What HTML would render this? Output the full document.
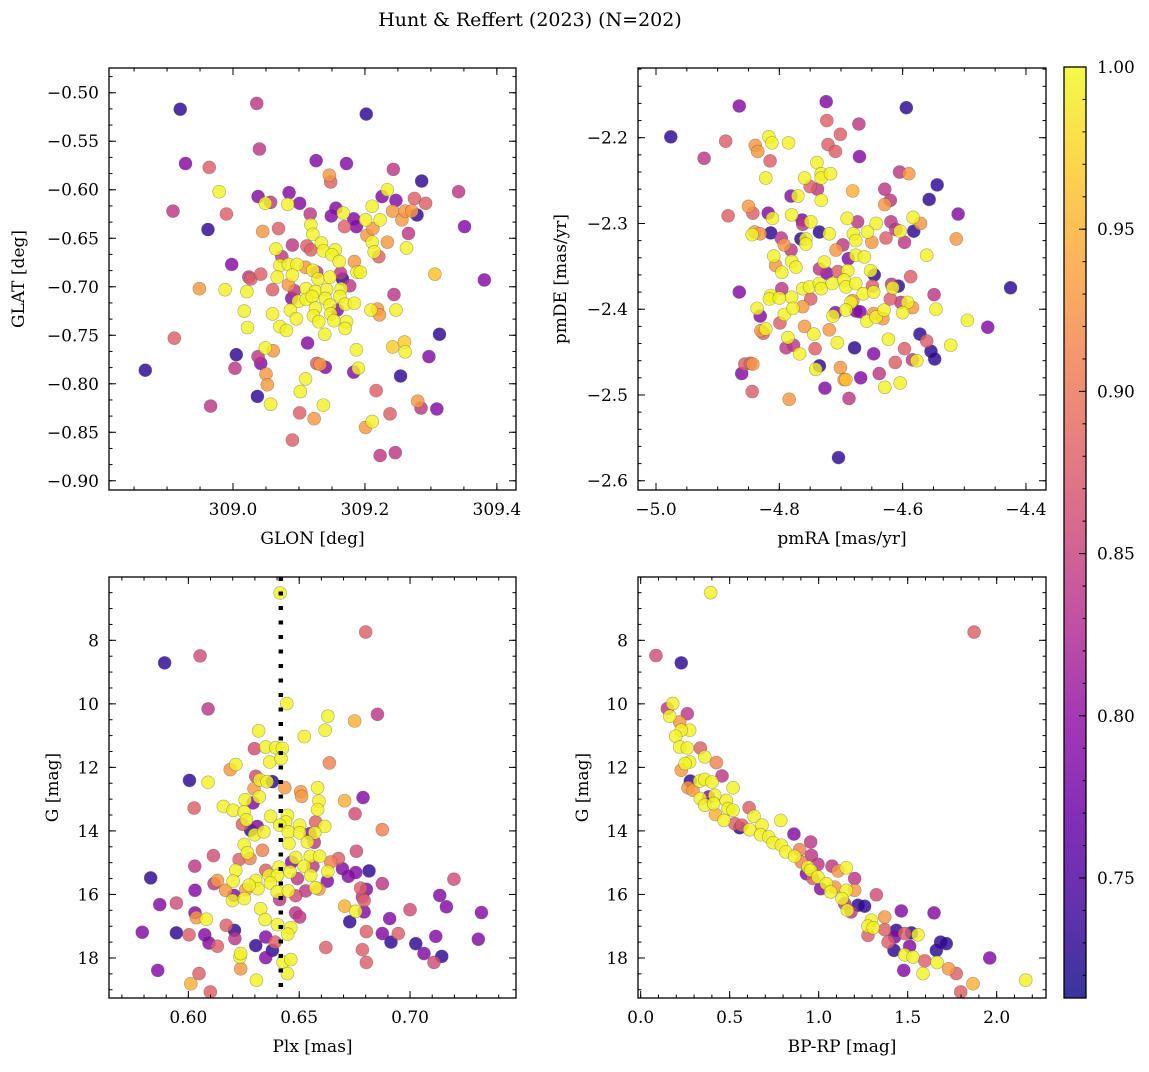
<!DOCTYPE html>
<html><head><meta charset="utf-8"><style>
body{margin:0;background:#fff}
svg text{font-family:"DejaVu Serif","Liberation Serif",serif;fill:#000}
</style></head><body>
<svg id="fig" xmlns="http://www.w3.org/2000/svg" width="1149" height="1067" viewBox="0 0 1149 1067">
<rect width="1149" height="1067" fill="#fff"/>
<text x="530" y="26" font-size="19" text-anchor="middle">Hunt &amp; Reffert (2023) (N=202)</text>
<g id="plots"></g>
</svg>
<script>
// Panel 1: GLON / GLAT
const p1Lon=[308.920,309.036,309.202,309.040,308.928,308.964,309.126,309.172,309.243,309.146,309.148,309.286,308.979,309.038,309.085,309.057,309.049,309.083,309.101,309.226,309.234,309.247,309.275,309.292,309.342,308.909,308.990,309.117,309.156,309.149,309.167,309.183,309.201,309.211,309.223,309.242,309.256,309.261,309.271,309.279,308.962,309.351,309.045,309.069,309.118,309.121,309.169,309.187,309.203,309.212,309.266,309.090,309.134,309.112,309.118,309.065,309.137,309.155,309.150,309.211,309.234,309.214,309.221,309.263,309.074,308.998,309.071,309.084,309.097,309.110,309.161,309.184,309.188,309.193,309.306,309.024,309.027,309.042,309.067,309.090,309.121,309.129,309.127,309.147,309.163,309.166,309.177,309.381,308.949,308.988,309.021,309.060,309.084,309.093,309.111,309.125,309.142,309.164,309.089,309.099,309.111,309.120,309.140,309.162,309.244,309.017,309.060,309.087,309.125,309.147,309.148,309.158,309.170,309.184,309.209,309.219,309.222,309.247,309.096,309.122,309.130,309.153,309.172,309.170,309.022,309.071,309.081,309.139,309.313,309.113,309.187,309.242,309.260,309.261,308.911,309.005,309.038,309.042,309.049,309.061,309.127,309.132,309.140,309.183,309.190,309.297,308.867,309.003,309.050,309.110,309.052,309.254,309.102,309.217,309.037,309.057,309.137,308.966,309.280,309.285,309.309,309.101,309.123,309.201,309.211,309.238,309.090,309.223,309.246];
const p1Lat=[-0.517,-0.511,-0.522,-0.558,-0.573,-0.577,-0.570,-0.573,-0.579,-0.585,-0.592,-0.591,-0.602,-0.607,-0.603,-0.613,-0.614,-0.615,-0.614,-0.607,-0.600,-0.611,-0.609,-0.614,-0.602,-0.622,-0.625,-0.625,-0.619,-0.627,-0.624,-0.630,-0.631,-0.617,-0.631,-0.622,-0.631,-0.622,-0.622,-0.626,-0.641,-0.638,-0.643,-0.640,-0.636,-0.646,-0.638,-0.638,-0.647,-0.640,-0.645,-0.657,-0.655,-0.658,-0.662,-0.661,-0.663,-0.662,-0.667,-0.654,-0.654,-0.664,-0.669,-0.660,-0.669,-0.677,-0.678,-0.677,-0.677,-0.680,-0.674,-0.674,-0.685,-0.685,-0.687,-0.690,-0.692,-0.687,-0.690,-0.688,-0.683,-0.692,-0.685,-0.690,-0.686,-0.692,-0.699,-0.693,-0.702,-0.703,-0.705,-0.703,-0.698,-0.704,-0.702,-0.705,-0.703,-0.702,-0.712,-0.715,-0.713,-0.710,-0.712,-0.710,-0.708,-0.725,-0.728,-0.724,-0.722,-0.719,-0.728,-0.724,-0.718,-0.717,-0.724,-0.723,-0.729,-0.724,-0.733,-0.730,-0.736,-0.735,-0.736,-0.743,-0.742,-0.741,-0.745,-0.749,-0.749,-0.758,-0.765,-0.762,-0.757,-0.767,-0.753,-0.770,-0.772,-0.779,-0.763,-0.766,-0.779,-0.780,-0.783,-0.788,-0.784,-0.772,-0.786,-0.784,-0.790,-0.795,-0.801,-0.792,-0.808,-0.807,-0.813,-0.821,-0.822,-0.823,-0.818,-0.825,-0.826,-0.830,-0.836,-0.845,-0.839,-0.831,-0.858,-0.874,-0.871];
const p1Prob=[.73,.84,.73,.84,.79,.88,.79,.79,.84,.93,.88,.73,.995,.79,.79,.84,.995,.995,.79,.79,.995,.79,.88,.88,.84,.84,.88,.84,.79,.79,.995,.79,.995,.995,.995,.93,.93,.93,.93,.73,.73,.79,.93,.88,.995,.995,.88,.79,.93,.93,.84,.84,.995,.88,.88,.995,.995,.995,.995,.995,.93,.995,.88,.995,.84,.79,.995,.995,.995,.93,.995,.93,.995,.995,.96,.84,.88,.88,.995,.995,.995,.995,.84,.995,.84,.73,.84,.79,.93,.995,.995,.88,.93,.84,.995,.995,.995,.995,.79,.995,.995,.995,.995,.995,.84,.995,.995,.995,.995,.995,.995,.79,.995,.995,.995,.93,.93,.995,.995,.995,.995,.995,.995,.995,.995,.995,.995,.995,.73,.79,.995,.97,.97,.995,.88,.73,.84,.79,.995,.93,.88,.93,.79,.79,.995,.79,.73,.84,.93,.995,.93,.73,.995,.88,.73,.995,.995,.84,.93,.84,.79,.88,.93,.93,.995,.88,.88,.84,.84];
// Panel 2: pmRA / pmDE
const p2Ra=[-4.976,-4.865,-4.724,-4.594,-4.723,-4.671,-4.701,-4.922,-4.887,-4.839,-4.835,-4.817,-4.812,-4.785,-4.815,-4.721,-4.709,-4.670,-4.739,-4.822,-4.759,-4.750,-4.738,-4.732,-4.732,-4.717,-4.732,-4.781,-4.770,-4.681,-4.605,-4.590,-4.544,-4.629,-4.620,-4.629,-4.557,-4.510,-4.850,-4.843,-4.883,-4.818,-4.811,-4.780,-4.763,-4.762,-4.749,-4.735,-4.690,-4.673,-4.643,-4.619,-4.611,-4.604,-4.583,-4.571,-4.582,-4.844,-4.840,-4.831,-4.814,-4.797,-4.765,-4.757,-4.757,-4.719,-4.680,-4.676,-4.657,-4.650,-4.627,-4.597,-4.513,-4.792,-4.781,-4.708,-4.697,-4.688,-4.676,-4.662,-4.561,-4.809,-4.806,-4.796,-4.780,-4.773,-4.735,-4.727,-4.723,-4.705,-4.689,-4.652,-4.646,-4.587,-4.865,-4.814,-4.816,-4.800,-4.796,-4.780,-4.762,-4.751,-4.749,-4.735,-4.732,-4.714,-4.695,-4.692,-4.676,-4.664,-4.649,-4.647,-4.618,-4.607,-4.616,-4.681,-4.684,-4.620,-4.603,-4.592,-4.584,-4.549,-4.425,-4.836,-4.831,-4.792,-4.778,-4.762,-4.709,-4.713,-4.692,-4.676,-4.669,-4.658,-4.647,-4.632,-4.643,-4.630,-4.600,-4.546,-4.495,-4.830,-4.826,-4.822,-4.799,-4.759,-4.744,-4.719,-4.462,-4.786,-4.789,-4.777,-4.767,-4.742,-4.706,-4.678,-4.647,-4.623,-4.572,-4.561,-4.554,-4.548,-4.522,-4.597,-4.861,-4.856,-4.847,-4.843,-4.735,-4.741,-4.701,-4.695,-4.692,-4.668,-4.638,-4.612,-4.584,-4.577,-4.629,-4.604,-4.726,-4.844,-4.784,-4.687,-4.704];
const p2De=[-2.199,-2.163,-2.158,-2.165,-2.180,-2.184,-2.196,-2.224,-2.204,-2.209,-2.216,-2.199,-2.206,-2.206,-2.227,-2.208,-2.216,-2.222,-2.229,-2.247,-2.247,-2.257,-2.260,-2.242,-2.247,-2.242,-2.273,-2.268,-2.268,-2.262,-2.240,-2.242,-2.255,-2.260,-2.273,-2.278,-2.272,-2.289,-2.280,-2.288,-2.291,-2.288,-2.294,-2.290,-2.296,-2.301,-2.298,-2.310,-2.294,-2.298,-2.300,-2.298,-2.307,-2.309,-2.293,-2.300,-2.309,-2.313,-2.310,-2.312,-2.311,-2.317,-2.318,-2.318,-2.324,-2.312,-2.312,-2.320,-2.310,-2.322,-2.317,-2.322,-2.318,-2.325,-2.331,-2.331,-2.325,-2.341,-2.337,-2.339,-2.337,-2.338,-2.349,-2.357,-2.344,-2.351,-2.353,-2.345,-2.358,-2.356,-2.355,-2.355,-2.360,-2.362,-2.380,-2.384,-2.388,-2.387,-2.376,-2.386,-2.376,-2.374,-2.388,-2.370,-2.376,-2.370,-2.366,-2.374,-2.370,-2.382,-2.373,-2.380,-2.371,-2.373,-2.375,-2.390,-2.392,-2.388,-2.392,-2.392,-2.398,-2.383,-2.375,-2.399,-2.408,-2.406,-2.399,-2.397,-2.404,-2.408,-2.401,-2.402,-2.403,-2.414,-2.405,-2.411,-2.409,-2.401,-2.404,-2.400,-2.413,-2.425,-2.428,-2.423,-2.416,-2.420,-2.429,-2.424,-2.421,-2.433,-2.445,-2.442,-2.452,-2.446,-2.439,-2.445,-2.452,-2.435,-2.429,-2.437,-2.449,-2.458,-2.442,-2.446,-2.475,-2.464,-2.463,-2.464,-2.466,-2.470,-2.468,-2.482,-2.482,-2.480,-2.475,-2.462,-2.459,-2.460,-2.491,-2.486,-2.492,-2.496,-2.505,-2.504,-2.573];
const p2Prob=[.73,.79,.79,.73,.88,.84,.88,.84,.88,.93,.93,.995,.995,.995,.88,.88,.88,.79,.995,.995,.995,.88,.84,.995,.995,.995,.995,.79,.995,.95,.84,.93,.73,.84,.84,.93,.73,.79,.93,.88,.88,.79,.995,.995,.79,.84,.995,.73,.995,.84,.995,.84,.84,.995,.995,.93,.73,.995,.93,.93,.73,.84,.73,.995,.995,.995,.995,.995,.995,.93,.88,.84,.93,.93,.84,.93,.84,.79,.995,.995,.995,.995,.93,.995,.995,.995,.84,.995,.79,.88,.995,.995,.73,.88,.79,.995,.995,.995,.84,.995,.995,.995,.88,.995,.995,.995,.995,.995,.995,.995,.88,.995,.84,.73,.995,.93,.995,.88,.84,.995,.93,.84,.73,.995,.79,.995,.995,.93,.79,.995,.995,.79,.79,.995,.93,.93,.995,.995,.995,.995,.995,.93,.88,.995,.88,.93,.995,.93,.79,.995,.84,.84,.995,.88,.995,.73,.79,.995,.73,.88,.73,.73,.995,.88,.79,.88,.88,.93,.73,.995,.93,.93,.96,.79,.84,.88,.84,.995,.995,.995,.79,.88,.93,.84,.73];
// Panel 3: Plx / G
const p3Plx=[0.6414,0.680,0.5893,0.6053,0.6089,0.6444,0.6629,0.675,0.6853,0.6317,0.6523,0.6617,0.6298,0.6349,0.6394,0.6424,0.6367,0.6418,0.6636,0.6189,0.6214,0.6005,0.6089,0.6304,0.6322,0.6355,0.6379,0.6296,0.632,0.6435,0.6507,0.6511,0.6583,0.6589,0.6583,0.6705,0.6788,0.6026,0.6158,0.6202,0.6256,0.6292,0.6252,0.6262,0.6371,0.6447,0.6439,0.6574,0.6615,0.6752,0.6244,0.6281,0.6311,0.6299,0.6341,0.6412,0.6451,0.6502,0.6502,0.6548,0.657,0.6568,0.6537,0.6454,0.6875,0.6252,0.6266,0.6334,0.6278,0.6229,0.6113,0.6029,0.6484,0.6466,0.6550,0.6592,0.6562,0.6522,0.6642,0.6677,0.6758,0.6409,0.6459,0.6695,0.6755,0.6815,0.6722,0.6627,0.6629,0.583,0.6214,0.6349,0.6364,0.6402,0.6492,0.6552,0.6202,0.6131,0.6116,0.6304,0.6314,0.6274,0.6370,0.6259,0.6168,0.6030,0.6206,0.6199,0.6252,0.6401,0.6451,0.6529,0.6484,0.6574,0.6589,0.6777,0.6803,0.6875,0.7198,0.7134,0.6785,0.6793,0.6412,0.5871,0.5946,0.6705,0.6755,0.6793,0.7164,0.7,0.7322,0.6030,0.6326,0.6484,0.6502,0.6908,0.6036,0.6081,0.6346,0.6728,0.6402,0.6462,0.6448,0.6171,0.6208,0.5792,0.5946,0.6003,0.6074,0.6803,0.6875,0.6947,0.6914,0.7026,0.7116,0.7308,0.6093,0.6131,0.621,0.6349,0.6304,0.6379,0.6391,0.6620,0.6785,0.7063,0.7143,0.7108,0.6803,0.6233,0.6236,0.6349,0.6427,0.6462,0.6236,0.6447,0.5862,0.6048,0.6011,0.6307,0.6099];
const p3G=[6.51,7.74,8.71,8.49,10.16,9.99,10.39,10.54,10.33,10.85,11.03,10.83,11.41,11.36,11.38,11.40,11.83,11.72,11.86,12.07,11.91,12.41,12.47,12.28,12.39,12.45,12.45,12.67,12.93,12.64,12.77,12.91,12.64,13.06,13.33,13.05,12.95,13.28,13.23,13.35,13.02,13.12,13.40,13.65,13.54,13.51,13.72,13.72,13.86,13.46,13.79,13.98,13.86,14.12,14.03,13.82,14.03,13.82,14.06,14.09,14.06,14.36,14.35,14.40,13.96,14.43,14.69,14.61,14.87,14.90,14.78,15.11,14.84,14.98,14.80,14.80,15.11,15.11,14.98,14.87,14.64,15.14,15.29,15.19,15.31,15.26,15.43,15.58,15.28,15.48,15.24,15.24,15.40,15.40,15.50,15.40,15.58,15.56,15.66,15.56,15.82,15.71,15.64,15.85,15.87,15.87,16.03,16.19,16.13,15.92,15.89,15.89,16.04,15.79,15.83,15.80,15.84,15.66,15.52,16.03,16.08,16.19,16.16,16.32,16.27,16.37,16.53,16.55,16.39,16.48,16.57,16.58,16.45,16.58,16.71,16.76,16.73,16.78,16.79,16.86,16.95,17.05,17.25,16.97,17.13,17.19,17.21,17.27,17.27,17.17,17.23,17.23,17.50,17.55,17.32,17.41,17.53,17.63,17.39,17.34,17.61,17.76,17.50,17.67,17.74,17.86,17.95,18.14,18.14,17.97,17.86,17.99,18.13,18.05,18.34,18.49,18.39,18.49,18.81,18.70,19.07];
const p3Prob=[.995,.88,.73,.86,.84,.995,.995,.95,.84,.995,.995,.995,.86,.995,.995,.995,.995,.995,.91,.93,.995,.73,.995,.86,.995,.995,.73,.93,.995,.93,.93,.93,.995,.995,.995,.95,.79,.88,.995,.995,.995,.79,.995,.995,.995,.995,.995,.88,.995,.86,.88,.73,.79,.995,.995,.995,.995,.995,.995,.79,.995,.84,.995,.995,.91,.995,.995,.91,.91,.88,.86,.84,.995,.79,.995,.995,.84,.995,.91,.88,.86,.995,.995,.79,.79,.73,.79,.79,.995,.73,.995,.88,.995,.995,.84,.995,.995,.93,.84,.995,.995,.995,.995,.93,.93,.79,.79,.995,.995,.995,.995,.84,.86,.995,.93,.88,.79,.84,.86,.79,.84,.88,.84,.79,.86,.95,.995,.79,.79,.86,.79,.79,.995,.84,.84,.79,.93,.995,.995,.73,.995,.995,.995,.88,.73,.79,.73,.88,.79,.88,.79,.88,.73,.73,.79,.79,.79,.88,.84,.79,.73,.73,.88,.88,.88,.79,.73,.86,.88,.995,.995,.79,.995,.995,.93,.995,.79,.88,.95,.995,.88];
// Panel 4: BP-RP / G
const p4Col=[0.393,1.873,0.086,0.228,0.150,0.180,0.163,0.262,0.219,0.275,0.228,0.197,0.219,0.262,0.335,0.360,0.425,0.275,0.250,0.228,0.457,0.279,0.331,0.360,0.401,0.519,0.266,0.294,0.335,0.382,0.416,0.360,0.410,0.481,0.491,0.519,0.420,0.468,0.609,0.637,0.787,0.528,0.569,0.556,0.612,0.682,0.674,0.719,0.744,0.861,0.955,0.790,0.815,0.893,0.865,0.959,0.903,0.940,0.996,0.955,0.931,0.968,0.996,1.075,1.109,1.155,1.202,1.011,1.043,1.067,1.090,1.155,1.202,1.324,1.131,1.146,1.161,1.182,1.221,1.258,1.464,1.648,1.371,1.296,1.277,1.306,1.277,1.371,1.436,1.427,1.390,1.483,1.521,1.558,1.685,1.717,1.661,1.423,1.483,1.511,1.530,1.596,1.665,1.961,1.478,1.586,1.730,1.773,1.867,1.798,2.163];
const p4G=[6.50,7.74,8.48,8.71,10.15,9.99,10.39,10.31,10.57,10.83,10.83,11.02,11.36,11.39,11.39,11.67,11.85,11.83,11.88,12.09,12.27,12.43,12.43,12.38,12.46,12.64,12.64,12.72,12.98,12.93,12.88,13.19,13.14,13.04,13.30,13.35,13.48,13.67,13.27,13.54,13.67,13.77,13.82,13.90,13.96,13.82,14.12,14.19,14.37,14.10,14.35,14.45,14.66,14.59,14.80,14.77,14.98,15.14,15.05,15.24,15.35,15.50,15.45,15.11,15.26,15.16,15.50,15.82,15.66,15.92,15.77,15.87,15.87,16.01,16.13,16.29,16.50,16.55,16.34,16.37,16.52,16.58,16.71,16.81,17.00,17.05,17.29,17.11,17.13,17.34,17.50,17.23,17.21,17.27,17.50,17.55,17.76,17.76,17.90,17.63,17.97,18.09,18.14,18.00,18.39,18.49,18.34,18.49,18.81,19.07,18.70];
const p4Prob=[.995,.88,.86,.73,.84,.995,.995,.84,.93,.995,.995,.995,.995,.995,.88,.995,.91,.995,.995,.93,.84,.73,.995,.995,.995,.995,.93,.93,.995,.79,.995,.995,.995,.995,.995,.995,.95,.995,.88,.995,.995,.88,.88,.73,.995,.995,.995,.995,.995,.79,.84,.995,.995,.91,.995,.84,.91,.995,.84,.995,.79,.88,.995,.84,.93,.995,.84,.79,.995,.995,.93,.995,.93,.86,.995,.84,.995,.84,.73,.73,.79,.79,.93,.995,.995,.995,.88,.88,.73,.79,.88,.88,.73,.995,.73,.73,.73,.73,.995,.79,.995,.88,.995,.79,.79,.995,.93,.88,.95,.88,.995];
// Colorbar ticks
const cbTicks=[1.00,0.95,0.90,0.85,0.80,0.75];
const vmin=0.713, vmax=1.0;

const NS='http://www.w3.org/2000/svg';
const root=document.getElementById('plots');
function mk(tag,attrs,parent){const e=document.createElementNS(NS,tag);for(const k in attrs)e.setAttribute(k,attrs[k]);(parent||root).appendChild(e);return e;}
const plasma=[[13,8,135],[65,4,157],[106,0,168],[143,13,164],[177,42,144],[204,71,120],[225,100,98],[242,132,75],[252,166,54],[252,206,37],[240,249,33]];
function cmap(v){let t=(v-vmin)/(vmax-vmin);t=Math.max(0,Math.min(1,t))*10;const i=Math.min(9,Math.floor(t)),f=t-i;const a=plasma[i],b=plasma[i+1];return 'rgb('+a.map((c,k)=>Math.round(c+(b[k]-c)*f)).join(',')+')';}
function fmt(v,d){return (v<0?'\u2212':'')+Math.abs(v).toFixed(d);}

function panel(o){
  const g=mk('g',{});
  
  
  const sx=v=>o.L+(v-o.x0)/(o.x1-o.x0)*(o.R-o.L);
  const sy=v=>o.T+(v-o.y0)/(o.y1-o.y0)*(o.B-o.T);
  const clipId='c'+o.name;
  const cp=mk('clipPath',{id:clipId},g);mk('rect',{x:o.L,y:o.T,width:o.R-o.L,height:o.B-o.T},cp);
  const pts=mk('g',{'clip-path':'url(#'+clipId+')'},g);
  
  
  const idx=o.xs.map((_,i)=>i).sort((a,b)=>o.ps[a]-o.ps[b]);
  idx.forEach(i=>{
    const c=mk('circle',{cx:sx(o.xs[i]),cy:sy(o.ys[i]),r:6.5,fill:cmap(o.ps[i]),'fill-opacity':0.82,stroke:'rgba(70,70,70,0.45)','stroke-width':0.6},pts);
    
    
  });
  if(o.vline!==undefined){
    const l=mk('line',{x1:sx(o.vline),x2:sx(o.vline),y1:o.T,y2:o.B,stroke:'#000','stroke-width':4.5,'stroke-dasharray':'4,10.5'},g);
    
    
  }
  const tk=mk('g',{stroke:'#000','stroke-width':1},g);
  const rng=(a,b,s)=>{const r=[];const st=Math.ceil(Math.min(a,b)/s-1e-6);for(let k=st;k*s<=Math.max(a,b)+1e-9;k++)r.push(k*s);return r;};
  rng(o.x0,o.x1,o.xmin).forEach(v=>{const x=sx(v);mk('line',{x1:x,x2:x,y1:o.B,y2:o.B-3.5},tk);mk('line',{x1:x,x2:x,y1:o.T,y2:o.T+3.5},tk);});
  rng(o.y0,o.y1,o.ymin).forEach(v=>{const y=sy(v);mk('line',{x1:o.L,x2:o.L+3.5,y1:y,y2:y},tk);mk('line',{x1:o.R,x2:o.R-3.5,y1:y,y2:y},tk);});
  o.xt.forEach(v=>{const x=sx(v);mk('line',{x1:x,x2:x,y1:o.B,y2:o.B-7},tk);mk('line',{x1:x,x2:x,y1:o.T,y2:o.T+7},tk);
    const t=mk('text',{x:x,y:o.B+25,'font-size':17,'text-anchor':'middle'},g);t.textContent=fmt(v,o.xd);
    
    });
  o.yt.forEach(v=>{const y=sy(v);mk('line',{x1:o.L,x2:o.L+7,y1:y,y2:y},tk);mk('line',{x1:o.R,x2:o.R-7,y1:y,y2:y},tk);
    const t=mk('text',{x:o.L-10,y:y+6,'font-size':17,'text-anchor':'end'},g);t.textContent=fmt(v,o.yd);
    
    });
  mk('rect',{x:o.L,y:o.T,width:o.R-o.L,height:o.B-o.T,fill:'none',stroke:'#000','stroke-width':1.3},g);
  const xl=mk('text',{x:(o.L+o.R)/2,y:o.B+54,'font-size':17,'text-anchor':'middle'},g);xl.textContent=o.xlab;
  
  
  const yx=o.ylx,yy=(o.T+o.B)/2;
  const yl=mk('text',{x:yx,y:yy,'font-size':17,'text-anchor':'middle',transform:'rotate(-90 '+yx+' '+yy+')'},g);yl.textContent=o.ylab;
  
  
}
panel({name:'glon-glat-panel',L:109,R:516,T:68,B:490,x0:308.812,x1:309.429,y0:-0.4745,y1:-0.9095,xs:p1Lon,ys:p1Lat,ps:p1Prob,
  xt:[309.0,309.2,309.4],xd:1,xmin:0.05,yt:[-0.50,-0.55,-0.60,-0.65,-0.70,-0.75,-0.80,-0.85,-0.90],yd:2,ymin:0.05/3,xlab:'GLON [deg]',ylab:'GLAT [deg]',ylx:24});
panel({name:'pm-panel',L:638,R:1046,T:68,B:490,x0:-5.0292,x1:-4.3675,y0:-2.1187,y1:-2.6108,xs:p2Ra,ys:p2De,ps:p2Prob,
  xt:[-5.0,-4.8,-4.6,-4.4],xd:1,xmin:0.05,yt:[-2.2,-2.3,-2.4,-2.5,-2.6],yd:1,ymin:0.02,xlab:'pmRA [mas/yr]',ylab:'pmDE [mas/yr]',ylx:566});
panel({name:'plx-g-panel',L:109,R:516,T:577,B:998,x0:0.5642,x1:0.7478,y0:6.007,y1:19.26,xs:p3Plx,ys:p3G,ps:p3Prob,vline:0.6417,
  xt:[0.60,0.65,0.70],xd:2,xmin:0.01,yt:[8,10,12,14,16,18],yd:0,ymin:0.5,xlab:'Plx [mas]',ylab:'G [mag]',ylx:58});
panel({name:'cmd-panel',L:638,R:1046,T:577,B:998,x0:-0.015,x1:2.277,y0:6.007,y1:19.26,xs:p4Col,ys:p4G,ps:p4Prob,
  xt:[0.0,0.5,1.0,1.5,2.0],xd:1,xmin:0.1,yt:[8,10,12,14,16,18],yd:0,ymin:0.5,xlab:'BP-RP [mag]',ylab:'G [mag]',ylx:588});

const cb=mk('g',{});


const CL=1064,CR=1086,CT=67,CB=998;
const cy=v=>CT+(vmax-v)/(vmax-vmin)*(CB-CT);
const defs=mk('defs',{},cb);
const lg=mk('linearGradient',{id:'cbg',x1:0,y1:1,x2:0,y2:0},defs);
for(let k=0;k<=10;k++){mk('stop',{offset:k/10,'stop-color':'rgb('+plasma[k].join(',')+')','stop-opacity':0.82},lg);}
mk('rect',{x:CL,y:CT,width:CR-CL,height:CB-CT,fill:'url(#cbg)'},cb);
for(let v=0.72;v<=1.0001;v+=0.01){const y=cy(v);mk('line',{x1:CR,x2:CR-3.5,y1:y,y2:y,stroke:'#000'},cb);}
cbTicks.forEach(v=>{const y=cy(v);mk('line',{x1:CR,x2:CR-7,y1:y,y2:y,stroke:'#000'},cb);
  const t=mk('text',{x:CR+11,y:y+6,'font-size':17},cb);t.textContent=v.toFixed(2);
  
  });
mk('rect',{x:CL,y:CT,width:CR-CL,height:CB-CT,fill:'none',stroke:'#000','stroke-width':1.3},cb);
</script>
</body></html>
